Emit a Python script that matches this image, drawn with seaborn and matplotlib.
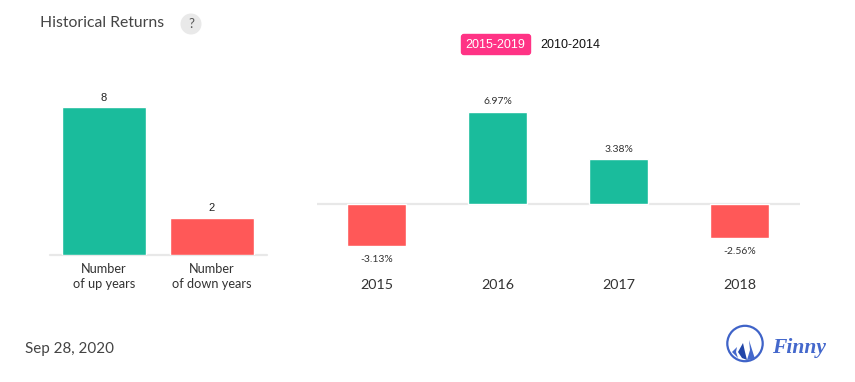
import pandas as pd
import matplotlib
matplotlib.use("Agg")
import matplotlib.pyplot as plt
from matplotlib.patches import Circle, FancyBboxPatch, Polygon
import seaborn as sns

count_labels = ["Number\nof up years", "Number\nof down years"]
count_values = [8, 2]
years = ["2015", "2016", "2017", "2018"]
returns = [-3.13, 6.97, 3.38, -2.56]

GREEN = "#1abc9c"
RED = "#ff5858"
W, H = 855, 382

sns.set_theme(style="white")
plt.rcParams["font.family"] = ["Lato", "DejaVu Sans"]

fig = plt.figure(figsize=(W / 100, H / 100), dpi=100)


def box(x0, y_top, x1, y_bot):
    return [x0 / W, 1 - y_bot / H, (x1 - x0) / W, (y_bot - y_top) / H]


# left panel, counts of up and down years
ax1 = fig.add_axes(box(50, 107.5, 267, 255))
df1 = pd.DataFrame({"label": count_labels, "value": count_values})
sns.barplot(data=df1, x="label", y="value", hue="label", palette=[GREEN, RED],
            width=0.785, legend=False, saturation=1, ax=ax1)
ax1.set_xlim(-0.5, 1.51)
ax1.set_ylim(0, 8)
for c in ax1.containers:
    ax1.bar_label(c, padding=3.5, fontsize=8, color="#222222", family="Liberation Sans")

# right panel, yearly returns
ax2 = fig.add_axes(box(316.5, 111.5, 799.5, 246))
df2 = pd.DataFrame({"year": years, "value": returns})
sns.barplot(data=df2, x="year", y="value", hue="year",
            palette=[GREEN if v > 0 else RED for v in returns],
            width=0.49, legend=False, saturation=1, ax=ax2)
ax2.set_xlim(-0.496, 3.496)
ax2.set_ylim(-3.13, 6.97)
for c, v in zip(ax2.containers, returns):
    ax2.bar_label(c, labels=[f"{v:.2f}%"], padding=4 if v > 0 else 6.5,
                  fontsize=7.5, color="#333333")

for ax in (ax1, ax2):
    ax.set_xlabel("")
    ax.set_ylabel("")
    ax.set_yticks([])
    ax.patch.set_alpha(0)
    sns.despine(ax=ax, left=True, bottom=True)
    ax.tick_params(axis="x", length=0, labelcolor="#333333")

ax1.tick_params(axis="x", pad=5.8, labelsize=9.2)
ax1.axhline(0, color="#e8e8e8", lw=1.6, zorder=0, clip_on=False)
ax2.axhline(0, color="#e8e8e8", lw=1.6, zorder=0)
for t in ax1.get_xticklabels():
    t.set_linespacing(1.3)
ax2.tick_params(axis="x", pad=23.8, labelsize=10.3)

# overlay in pixel coordinates for the header, toggle and logo
ov = fig.add_axes([0, 0, 1, 1], zorder=5)
ov.set_xlim(0, W)
ov.set_ylim(H, 0)
ov.axis("off")
ov.patch.set_alpha(0)

ov.text(40, 23, "Historical Returns", fontsize=11.3, color="#444444", va="center")
ov.add_patch(Circle((191, 24), 10.5, fc="#e9e9e9", ec="none"))
ov.text(191, 24, "?", fontsize=9.5, color="#555555", ha="center", va="center")

ov.add_patch(FancyBboxPatch((461.5, 34.5), 69, 20, boxstyle="round,pad=0,rounding_size=2.5",
                            fc="#ff3385", ec="#ff3385", lw=1))
ov.text(495.5, 45, "2015-2019", fontsize=9, color="white", ha="center", va="center",
        family="Liberation Sans")
ov.text(570, 45, "2010-2014", fontsize=9, color="#111111", ha="center", va="center",
        family="Liberation Sans")

ov.text(25, 349, "Sep 28, 2020", fontsize=10.9, color="#444444", va="center")

ov.add_patch(Circle((745, 343.5), 17.7, fc="none", ec="#3f63c8", lw=1.6))
ov.add_patch(Polygon([(749, 340), (755, 359), (747, 360), (750, 350)], fc="#4468cc", ec="none"))
ov.add_patch(Polygon([(743, 343), (738, 352), (742, 358), (747, 360), (745, 352)],
                     fc="#2145a8", ec="none"))
ov.add_patch(Polygon([(737, 347), (732, 352), (738, 358), (736, 352)], fc="#4468cc", ec="none"))
ov.text(772, 348.5, "Finny", fontsize=15.5, color="#4468cc", va="center",
        family="Liberation Serif", style="italic", weight="bold")

fig.savefig("out.png", dpi=100)
